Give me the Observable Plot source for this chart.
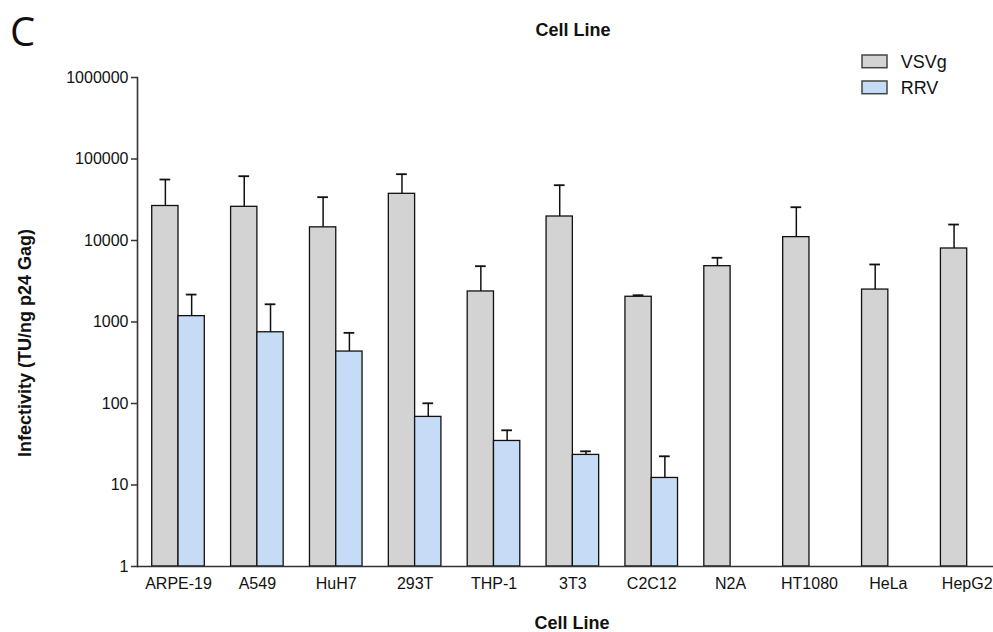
<!DOCTYPE html>
<html><head><meta charset="utf-8">
<script src="https://cdn.jsdelivr.net/npm/d3@7"></script>
<script src="https://cdn.jsdelivr.net/npm/@observablehq/plot@0.6"></script>
<style>body{margin:0;background:#fff} #chart svg{display:block}</style>
</head><body><div id="chart"></div>
<script>
const cells = ["ARPE-19","A549","HuH7","293T","THP-1","3T3","C2C12","N2A","HT1080","HeLa","HepG2"];
const series = ["VSVg","RRV"];
const vsvg      = [26500, 25900, 14500, 37400, 2370, 19700, 2040, 4840, 11000, 2500, 7980];
const vsvgUpper = [56000, 61500, 34000, 65100, 4840, 47700, 2130, 6140, 25600, 5080, 15700];
const rrv       = [1180, 748, 434, 68.5, 34.7, 23.4, 12.2, null, null, null, null];
const rrvUpper  = [2170, 1650, 736, 100.6, 46.9, 25.9, 22.5, null, null, null, null];
const yTicks = [1, 10, 100, 1000, 10000, 100000, 1000000];
const yTickLabels = ["1", "10", "100", "1000", "10000", "100000", "1000000"];
const titleText = "Cell Line", xLabel = "Cell Line", yLabel = "Infectivity (TU/ng p24 Gag)", panel = "C";
const colors = ["#d3d3d3", "#c6dcf6"];

const rows = [];
cells.forEach((c, i) => {
  rows.push({cell: c, series: "VSVg", key: c + "|VSVg", value: vsvg[i], upper: vsvgUpper[i]});
  if (rrv[i] != null) rows.push({cell: c, series: "RRV", key: c + "|RRV", value: rrv[i], upper: rrvUpper[i]});
});
const slots = cells.flatMap((c, i) => i < cells.length - 1 ? [c + "|VSVg", c + "|RRV", c + "|gap"] : [c + "|VSVg", c + "|RRV"]);

const W = 993, H = 632, mL = 137, mR = 0, mT = 77, mB = 66, pO = 0.28;
const step = (W - mL - mR) / (slots.length + 2 * pO);
const capInset = (step - 10.7) / 2;
const font = "'Liberation Sans', Arial, sans-serif";

const plot = Plot.plot({
  width: W, height: H, marginLeft: mL, marginRight: mR, marginTop: mT, marginBottom: mB,
  style: {fontFamily: font, fontSize: "16px", color: "#111", background: "#fff", overflow: "visible"},
  x: {domain: slots, paddingInner: 0, paddingOuter: pO, align: 1, round: false, axis: null},
  y: {type: "log", domain: [1, 1e6], axis: null},
  color: {domain: series, range: colors},
  marks: [
    Plot.barY(rows, {x: "key", y1: 1, y2: "value", fill: "series", stroke: "#111", strokeWidth: 1.3}),
    Plot.ruleX(rows, {x: "key", y1: "value", y2: "upper", stroke: "#111", strokeWidth: 1.5}),
    Plot.tickY(rows, {x: "key", y: "upper", insetLeft: capInset, insetRight: capInset, stroke: "#111", strokeWidth: 1.8}),
    Plot.axisY({ticks: yTicks, tickFormat: d => yTickLabels[yTicks.indexOf(d)], tickSize: 6, tickPadding: 3, stroke: "#333", strokeWidth: 1.5, fontSize: 16, label: null}),
    Plot.axisX({ticks: cells.map(c => c + "|RRV"), tickFormat: k => k.split("|")[0], tickSize: 0, tickPadding: 10.7, dx: -step / 2, fontSize: 16, label: null}),
    Plot.frame({anchor: "left", stroke: "#333", strokeWidth: 1.6}),
    Plot.ruleY([1], {stroke: "#333", strokeWidth: 1.6})
  ]
});
document.getElementById("chart").appendChild(plot);

const svg = d3.select(plot);
svg.append("text").text(panel).attr("x", 10).attr("y", 45.5).attr("text-anchor", "start")
  .attr("font-family", "'Open Sans', sans-serif").attr("font-size", 40).attr("fill", "#111");
svg.append("text").text(titleText).attr("x", 573).attr("y", 35.7).attr("text-anchor", "middle")
  .attr("font-family", font).attr("font-weight", "bold").attr("font-size", 18).attr("fill", "#111");
svg.append("text").text(xLabel).attr("x", 572).attr("y", 629).attr("text-anchor", "middle")
  .attr("font-family", font).attr("font-weight", "bold").attr("font-size", 18).attr("fill", "#111");
svg.append("text").text(yLabel).attr("transform", "translate(31,343) rotate(-90)").attr("text-anchor", "middle")
  .attr("font-family", font).attr("font-weight", "bold").attr("font-size", 18).attr("fill", "#111");
const leg = svg.append("g");
series.forEach((s, i) => {
  leg.append("rect").attr("x", 862).attr("y", 55 + i * 26).attr("width", 25).attr("height", 12.7)
    .attr("fill", colors[i]).attr("stroke", "#444").attr("stroke-width", 1.5);
  leg.append("text").text(s).attr("x", 900.7).attr("y", 67.7 + i * 26.3).attr("text-anchor", "start")
    .attr("font-family", font).attr("font-size", 18).attr("fill", "#111");
});
</script></body></html>
